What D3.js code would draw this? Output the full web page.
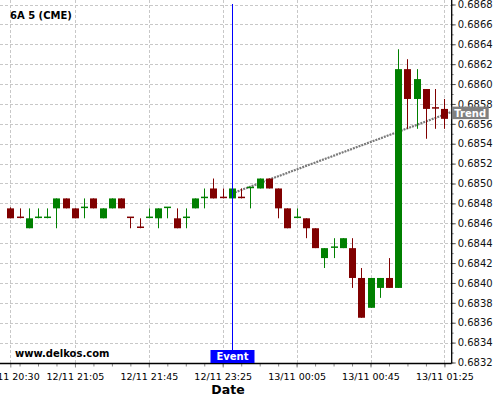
<!DOCTYPE html>
<html>
<head>
<meta charset="utf-8">
<script src="https://cdn.jsdelivr.net/npm/d3@7"></script>
<style>
  html, body { margin: 0; padding: 0; background: #fff; }
  svg { display: block; font-family: "DejaVu Sans", sans-serif; }
</style>
</head>
<body>
<svg id="chart" width="500" height="400"></svg>
<script>
// ---- data ----
const title = "6A 5 (CME)";
const times = [
  "12/11 20:30","12/11 20:35","12/11 20:40","12/11 20:45","12/11 20:50","12/11 20:55","12/11 21:00","12/11 21:05",
  "12/11 21:10","12/11 21:15","12/11 21:20","12/11 21:25","12/11 21:30","12/11 21:35","12/11 21:40","12/11 21:45",
  "12/11 21:50","12/11 21:55","12/11 23:00","12/11 23:05","12/11 23:10","12/11 23:15","12/11 23:20","12/11 23:25",
  "12/11 23:30","12/11 23:35","12/11 23:40","12/11 23:45","12/11 23:50","12/11 23:55","13/11 00:00","13/11 00:05",
  "13/11 00:10","13/11 00:15","13/11 00:20","13/11 00:25","13/11 00:30","13/11 00:35","13/11 00:40","13/11 00:45",
  "13/11 00:50","13/11 00:55","13/11 01:00","13/11 01:05","13/11 01:10","13/11 01:15","13/11 01:20","13/11 01:25"
];
const opens = [
  0.68475,0.68466,0.68455,0.68465,0.68465,0.68475,0.68485,0.68475,
  0.68475,0.68485,0.68465,0.68475,0.68485,0.68466,0.68456,0.68465,
  0.68465,0.68475,0.68465,0.68465,0.68475,0.68485,0.68495,0.68486,
  0.68485,0.68486,0.68495,0.68495,0.68505,0.68495,0.68475,0.68465,
  0.68465,0.68455,0.68425,0.68435,0.68435,0.68435,0.68405,0.68375,
  0.68395,0.68405,0.68395,0.68615,0.68585,0.68595,0.68576,0.68575
];
const highs = [
  0.68476,0.68475,0.68475,0.68475,0.68475,0.68485,0.68485,0.68475,
  0.68485,0.68485,0.68475,0.68485,0.68485,0.68466,0.68465,0.68475,
  0.68475,0.68476,0.68475,0.68475,0.68485,0.68495,0.68505,0.68495,
  0.68495,0.68495,0.68496,0.68505,0.68505,0.68495,0.68475,0.68475,
  0.68465,0.68455,0.68435,0.68445,0.68445,0.68445,0.68415,0.68405,
  0.68405,0.68425,0.68635,0.68625,0.68615,0.68595,0.68595,0.68585
];
const lows = [
  0.68465,0.68465,0.68455,0.68465,0.68465,0.68455,0.68475,0.68465,
  0.68465,0.68475,0.68465,0.68475,0.68475,0.68455,0.68455,0.68465,
  0.68455,0.68465,0.68455,0.68455,0.68475,0.68475,0.68485,0.68485,
  0.68485,0.68485,0.68475,0.68495,0.68495,0.68465,0.68455,0.68465,
  0.68445,0.68435,0.68415,0.68425,0.68435,0.68395,0.68365,0.68375,
  0.68385,0.68395,0.68395,0.68555,0.68555,0.68545,0.68555,0.68555
];
const closes = [
  0.68465,0.68465,0.68465,0.68466,0.68466,0.68485,0.68475,0.68465,
  0.68476,0.68475,0.68475,0.68485,0.68475,0.68465,0.68455,0.68466,
  0.68475,0.68476,0.68455,0.68466,0.68485,0.68486,0.68485,0.68485,
  0.68495,0.68485,0.68496,0.68505,0.68495,0.68475,0.68455,0.68466,
  0.68455,0.68435,0.68435,0.68436,0.68445,0.68405,0.68365,0.68405,
  0.68405,0.68395,0.68615,0.68585,0.68605,0.68575,0.68575,0.68565
];
const xTickLabels = ["12/11 20:30","12/11 21:05","12/11 21:45","12/11 23:25","13/11 00:05","13/11 00:45","13/11 01:25"];
const yDomain = [0.6832, 0.6868];
const yTickStep = 0.0002;
const eventTime = "12/11 23:30";
const eventLabel = "Event";
const trendLabel = "Trend";
const trendStartTime = "12/11 23:30";
const trendStartValue = 0.68490;
const trendEndValue = 0.68572;   // value where the dotted trend meets the price axis
const xAxisTitle = "Date";
const watermark = "www.delkos.com";

// ---- layout ----
const svg = d3.select("#chart");
const plotLeft = 0, plotRight = 451.7, plotTop = 0, plotBottom = 363.5;
const x = d3.scalePoint().domain(times).range([10.3, 444.4]);
const y = d3.scaleLinear().domain(yDomain).range([362.5, 4.5]);

const candles = times.map((t, i) => ({t, o: opens[i], h: highs[i], l: lows[i], c: closes[i]}));

// grid
const yTicks = d3.range(0, Math.round((yDomain[1]-yDomain[0])/yTickStep)+1).map(k => +(yDomain[0] + k*yTickStep).toFixed(4));
const yMinor = d3.range(0, Math.round((yDomain[1]-yDomain[0])/(yTickStep/2))+1).map(k => +(yDomain[0] + k*yTickStep/2).toFixed(5));
const grid = svg.append("g").attr("stroke", "#c8c8c8").attr("stroke-dasharray", "3,2").attr("stroke-width", 1);
grid.selectAll("line.h").data(yTicks).join("line").attr("class","h")
  .attr("x1", plotLeft).attr("x2", plotRight)
  .attr("y1", d => Math.round(y(d)) + 0.5).attr("y2", d => Math.round(y(d)) + 0.5);
grid.selectAll("line.v").data(xTickLabels).join("line").attr("class","v")
  .attr("x1", d => Math.round(x(d)) + 0.5).attr("x2", d => Math.round(x(d)) + 0.5)
  .attr("y1", plotTop).attr("y2", plotBottom);

// trend line
const trendEndX = plotRight;
const trendLine = d3.line().x(d => d[0]).y(d => y(d[1]));
svg.append("path")
  .attr("d", trendLine([[x(trendStartTime), trendStartValue], [trendEndX, trendEndValue]]))
  .attr("fill", "none").attr("stroke", "#7a7a7a").attr("stroke-width", 2.2).attr("stroke-dasharray", "2,1");

// candles
const bodyW = 7;
const up = d => d.c >= d.o;
const cg = svg.append("g");
cg.selectAll("line.wick").data(candles).join("line").attr("class","wick")
  .attr("x1", d => Math.round(x(d.t)) + 0.5).attr("x2", d => Math.round(x(d.t)) + 0.5)
  .attr("y1", d => y(d.h)).attr("y2", d => y(d.l))
  .attr("stroke", d => up(d) ? "#008000" : "#800000").attr("stroke-width", 1);
cg.selectAll("rect.body").data(candles).join("rect").attr("class","body")
  .attr("x", d => Math.round(x(d.t)) + 0.5 - bodyW/2)
  .attr("width", bodyW)
  .attr("y", d => Math.min(y(d.o), y(d.c)) - (Math.abs(y(d.o)-y(d.c)) < 1.5 ? 0.75 : 0))
  .attr("height", d => Math.max(1.5, Math.abs(y(d.o) - y(d.c))))
  .attr("fill", d => up(d) ? "#008000" : "#800000");

// event line
const ex = Math.round(x(eventTime)) + 0.5;
svg.append("line").attr("x1", ex).attr("x2", ex).attr("y1", 4).attr("y2", 351)
  .attr("stroke", "#0000ff").attr("stroke-width", 1);

// axes
const xAxisMinor = d3.axisBottom(x).tickValues(times.filter((t, i) => i % 2 === 1)).tickSize(3).tickFormat("");
const xAxisMajor = d3.axisBottom(x).tickValues(xTickLabels).tickSize(4).tickSizeOuter(0);
const gxm = svg.append("g").attr("transform", `translate(0,${plotBottom})`).call(xAxisMinor);
gxm.select(".domain").remove();
const gx = svg.append("g").attr("transform", `translate(0,${plotBottom})`).call(xAxisMajor);
gx.select(".domain").remove();
gx.selectAll("text").attr("font-size", 9.5).attr("font-family", "DejaVu Sans").attr("fill", "#000").attr("dy", "0.95em");
svg.selectAll(".tick line").attr("stroke", "#888");
svg.append("line").attr("x1", 0).attr("x2", plotRight).attr("y1", plotBottom).attr("y2", plotBottom)
  .attr("stroke", "#000").attr("stroke-width", 1.3);

const yAxisMinor = d3.axisRight(y).tickValues(yMinor).tickSize(2).tickFormat("");
const yAxisMajor = d3.axisRight(y).tickValues(yTicks).tickSize(4).tickFormat(d3.format(".4f")).tickPadding(2);
const gym = svg.append("g").attr("transform", `translate(${plotRight},0)`).call(yAxisMinor);
gym.select(".domain").remove();
gym.selectAll(".tick line").attr("stroke", "#888");
const gy = svg.append("g").attr("transform", `translate(${plotRight},0)`).call(yAxisMajor);
gy.select(".domain").remove();
gy.selectAll(".tick line").attr("stroke", "#555");
gy.selectAll("text").attr("font-size", 10).attr("font-family", "DejaVu Sans").attr("fill", "#111");
svg.append("line").attr("x1", plotRight).attr("x2", plotRight).attr("y1", 0).attr("y2", plotBottom)
  .attr("stroke", "#000").attr("stroke-width", 1.3);

// event label
svg.append("rect").attr("x", ex - 22).attr("y", 350).attr("width", 44).attr("height", 13)
  .attr("fill", "#0000ff");
svg.append("text").attr("x", ex).attr("y", 360).attr("text-anchor", "middle")
  .attr("font-size", 10).attr("font-weight", "bold").attr("fill", "#fff").text(eventLabel);

// trend label
const ty = y(trendEndValue) + 1;
svg.append("rect").attr("x", plotRight).attr("y", ty - 6.3).attr("width", 37).attr("height", 12.5)
  .attr("fill", "#808080");
svg.append("text").attr("x", plotRight + 18.5).attr("y", ty + 3.7).attr("text-anchor", "middle")
  .attr("font-size", 10).attr("font-weight", "bold").attr("fill", "#fff").text(trendLabel);

// texts
svg.append("text").attr("x", 10).attr("y", 18.5).attr("font-size", 10).attr("font-weight", "bold").text(title);
svg.append("text").attr("x", 15).attr("y", 357).attr("font-size", 10).attr("font-weight", "bold").text(watermark);
svg.append("text").attr("x", 228).attr("y", 394).attr("text-anchor", "middle")
  .attr("font-size", 12.5).attr("font-weight", "bold").text(xAxisTitle);
</script>
</body>
</html>
